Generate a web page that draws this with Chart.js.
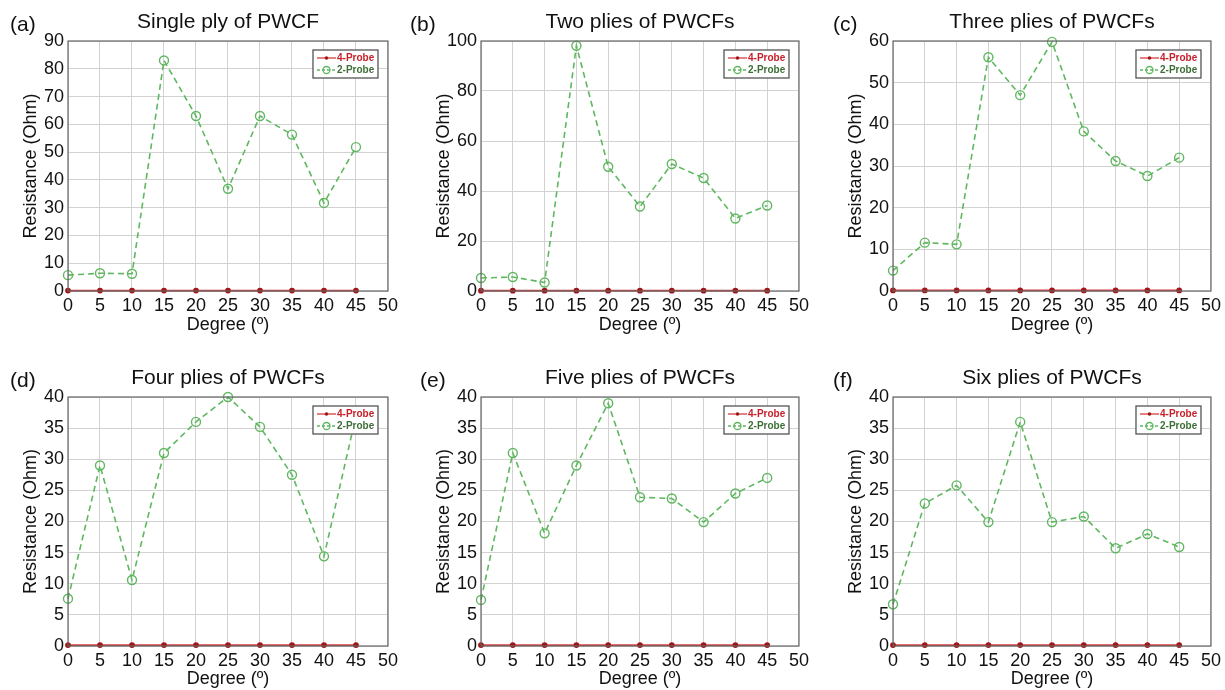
<!DOCTYPE html>
<html>
<head>
<script src="https://cdn.jsdelivr.net/npm/chart.js@4"></script>
<style>
  body { margin: 0; background: #fff; }
  #wrap { position: relative; width: 1225px; height: 690px; overflow: hidden; }
  #wrap canvas { position: absolute; }
</style>
</head>
<body>
<div id="wrap"></div>
<script>
// data
const degrees = [0, 5, 10, 15, 20, 25, 30, 35, 40, 45];
const panelTags = ['(a)', '(b)', '(c)', '(d)', '(e)', '(f)'];
const panelTitles = ['Single ply of PWCF', 'Two plies of PWCFs', 'Three plies of PWCFs',
                     'Four plies of PWCFs', 'Five plies of PWCFs', 'Six plies of PWCFs'];
const fourProbe = [0.15, 0.15, 0.15, 0.15, 0.15, 0.15, 0.15, 0.15, 0.15, 0.15];
const twoProbeA = [5.7, 6.4, 6.2, 83, 63, 36.8, 63, 56.3, 31.7, 51.8];
const twoProbeB = [5.2, 5.6, 3.4, 98.1, 49.7, 33.8, 50.8, 45.2, 29, 34.2];
const twoProbeC = [4.9, 11.6, 11.2, 56.1, 47, 59.8, 38.3, 31.2, 27.6, 32];
const twoProbeD = [7.6, 29, 10.6, 31, 36, 40, 35.2, 27.5, 14.4, 37];
const twoProbeE = [7.4, 31, 18.1, 29, 39, 23.9, 23.7, 19.9, 24.5, 27];
const twoProbeF = [6.7, 22.9, 25.8, 19.9, 36, 19.9, 20.8, 15.7, 18, 15.9];
const twoProbe = [twoProbeA, twoProbeB, twoProbeC, twoProbeD, twoProbeE, twoProbeF];
const yMax = [90, 100, 60, 40, 40, 40];
const yStep = [10, 20, 10, 5, 5, 5];

// plot-area boxes in page pixels, and where the (x) tag starts
const boxes = [
  { l: 68,  t: 41,  r: 389,  b: 291, tag: 58 },
  { l: 481, t: 41,  r: 800,  b: 291, tag: 71 },
  { l: 893, t: 41,  r: 1212, b: 291, tag: 60 },
  { l: 68,  t: 397, r: 389,  b: 646, tag: 58 },
  { l: 481, t: 397, r: 800,  b: 646, tag: 61 },
  { l: 893, t: 397, r: 1212, b: 646, tag: 60 }
];

const FONT = 'Liberation Sans, Arial, sans-serif';
const GREEN = '#5fb75f';
const RED = '#d43f3f';

const framePlugin = {
  id: 'frame',
  afterDraw(chart) {
    const { ctx, chartArea: a } = chart;
    const o = chart.options.plugins.frame;
    ctx.save();
    // box
    ctx.strokeStyle = '#666';
    ctx.lineWidth = 1.2;
    ctx.strokeRect(a.left, a.top, a.right - a.left, a.bottom - a.top);
    // title + tag
    ctx.fillStyle = '#111';
    ctx.textBaseline = 'alphabetic';
    ctx.font = '21px ' + FONT;
    ctx.textAlign = 'center';
    ctx.fillText(o.title, (a.left + a.right) / 2, a.top - 13);
    ctx.textAlign = 'left';
    ctx.fillText(o.tag, a.left - o.tagOffset, a.top - 10);
    // legend
    const lw = 65, lh = 28;
    const lx = a.right - 10 - lw, ly = a.top + 9;
    ctx.fillStyle = '#fff';
    ctx.fillRect(lx, ly, lw, lh);
    ctx.strokeStyle = '#555';
    ctx.lineWidth = 1.3;
    ctx.strokeRect(lx, ly, lw, lh);
    const rows = [
      { text: '4-Probe', color: RED, txt: '#c8202a', dash: [], dot: true },
      { text: '2-Probe', color: GREEN, txt: '#3d6e35', dash: [3, 2], dot: false }
    ];
    rows.forEach((row, i) => {
      const y = ly + 8 + i * 12;
      ctx.strokeStyle = row.color;
      ctx.lineWidth = 1.3;
      ctx.setLineDash(row.dash);
      ctx.beginPath();
      ctx.moveTo(lx + 4, y);
      ctx.lineTo(lx + 23, y);
      ctx.stroke();
      ctx.setLineDash([]);
      ctx.beginPath();
      if (row.dot) {
        ctx.fillStyle = '#a01515';
        ctx.arc(lx + 13.5, y, 1.8, 0, Math.PI * 2);
        ctx.fill();
      } else {
        ctx.arc(lx + 13.5, y, 3.5, 0, Math.PI * 2);
        ctx.stroke();
      }
      ctx.fillStyle = row.txt;
      ctx.font = 'bold 10px "Liberation Sans Narrow", ' + FONT;
      ctx.textAlign = 'left';
      ctx.textBaseline = 'middle';
      ctx.fillText(row.text, lx + 24, y + 0.5);
    });
    ctx.restore();
  }
};

const wrap = document.getElementById('wrap');
const tickFont = { family: FONT, size: 18 };

boxes.forEach((bx, i) => {
  const yW = 75, padTop = 41, padRight = 13;
  const xH = i < 3 ? 49 : 44;
  const titlePadBottom = Math.max(0, xH - 34 - 10.8);
  const cv = document.createElement('canvas');
  const left = bx.l - yW, top = bx.t - padTop;
  const width = bx.r + padRight - left;
  const height = bx.b + xH - top;
  cv.width = width;
  cv.height = height;
  cv.style.left = left + 'px';
  cv.style.top = top + 'px';
  cv.style.width = width + 'px';
  cv.style.height = height + 'px';
  wrap.appendChild(cv);

  new Chart(cv, {
    type: 'line',
    data: {
      datasets: [
        {
          label: '2-Probe',
          data: degrees.map((d, k) => ({ x: d, y: twoProbe[i][k] })),
          borderColor: GREEN,
          borderWidth: 1.6,
          borderDash: [6, 4],
          pointRadius: 4.5,
          pointBorderColor: GREEN,
          pointBackgroundColor: 'rgba(255,255,255,0)',
          pointBorderWidth: 1.4,
          tension: 0,
          clip: 8
        },
        {
          label: '4-Probe',
          data: degrees.map((d, k) => ({ x: d, y: fourProbe[k] })),
          borderColor: RED,
          borderWidth: 1.8,
          pointRadius: 2,
          pointBorderColor: '#a01515',
          pointBackgroundColor: '#a01515',
          tension: 0,
          clip: 8
        }
      ]
    },
    options: {
      responsive: false,
      animation: false,
      devicePixelRatio: 1,
      layout: { padding: { top: padTop, right: padRight, left: 0, bottom: 0 } },
      plugins: {
        legend: { display: false },
        tooltip: { enabled: false },
        frame: { title: panelTitles[i], tag: panelTags[i], tagOffset: bx.tag }
      },
      scales: {
        x: {
          type: 'linear',
          min: 0,
          max: 50,
          ticks: { stepSize: 5, font: tickFont, color: '#111', padding: 4, maxRotation: 0, autoSkip: false },
          grid: { color: '#d2d2d2', drawTicks: false },
          border: { display: false },
          title: { display: true, text: 'Degree (º)', font: tickFont, color: '#111',
                   padding: { top: 0, bottom: titlePadBottom } },
          afterFit(s) { s.height = xH; }
        },
        y: {
          type: 'linear',
          min: 0,
          max: yMax[i],
          ticks: { stepSize: yStep[i], font: tickFont, color: '#111', padding: 4 },
          grid: { color: '#d2d2d2', drawTicks: false },
          border: { display: false },
          title: { display: true, text: 'Resistance (Ohm)', font: tickFont, color: '#111',
                   padding: { top: 27, bottom: 0 } },
          afterFit(s) { s.width = yW; }
        }
      }
    },
    plugins: [framePlugin]
  });
});
</script>
</body>
</html>
